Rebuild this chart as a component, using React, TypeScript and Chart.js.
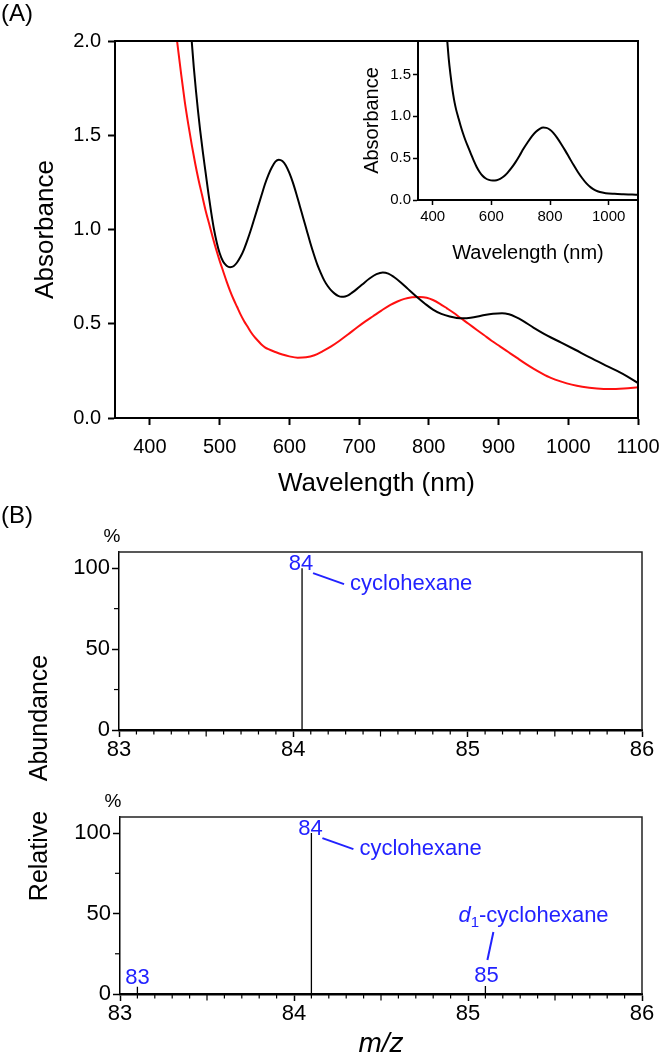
import React, { useEffect, useRef } from 'react';
import { Chart, registerables } from 'chart.js';

Chart.register(...registerables);

const FONT = "'Liberation Sans', Arial, Helvetica, sans-serif";
const BLUE = '#2222ff';
const RED = '#ff1010';

// ---------- Panel A: main UV-vis spectra ----------
const blackWl = [460, 463, 466, 469, 472, 476, 480, 484, 488, 492, 496, 500, 505, 510, 515, 520, 525, 530, 535, 540, 545, 550, 555, 560, 565, 570, 575, 580, 585, 590, 595, 600, 605, 610, 615, 620, 625, 630, 635, 640, 645, 650, 655, 660, 665, 670, 675, 680, 685, 690, 697, 705, 715, 725, 734, 742, 750, 759, 770, 783, 795, 806, 818, 830, 840, 850, 860, 870, 880, 892, 905, 915, 925, 935, 950, 970, 990, 1010, 1030, 1050, 1070, 1085, 1100];
const blackAbs = [2.0, 1.86, 1.74, 1.63, 1.53, 1.41, 1.3, 1.19, 1.09, 1.0, 0.93, 0.875, 0.83, 0.808, 0.8, 0.805, 0.825, 0.855, 0.895, 0.945, 1.0, 1.06, 1.12, 1.18, 1.24, 1.29, 1.33, 1.36, 1.37, 1.363, 1.34, 1.3, 1.25, 1.19, 1.125, 1.06, 0.995, 0.93, 0.87, 0.815, 0.77, 0.73, 0.7, 0.677, 0.66, 0.648, 0.643, 0.645, 0.652, 0.665, 0.685, 0.71, 0.74, 0.763, 0.772, 0.766, 0.748, 0.722, 0.685, 0.642, 0.605, 0.575, 0.552, 0.538, 0.531, 0.529, 0.532, 0.538, 0.546, 0.553, 0.556, 0.55, 0.535, 0.515, 0.48, 0.437, 0.4, 0.362, 0.323, 0.286, 0.25, 0.22, 0.185];

const redWl = [439, 445, 450, 455, 460, 465, 470, 475, 480, 485, 490, 495, 500, 505, 510, 515, 520, 525, 530, 535, 540, 545, 550, 555, 560, 565, 570, 580, 590, 600, 612, 624, 636, 648, 660, 672, 684, 697, 708, 720, 732, 745, 755, 765, 776, 787, 797, 806, 816, 826, 836, 845, 857, 869, 879, 890, 902, 914, 926, 938, 950, 962, 975, 990, 1005, 1020, 1041, 1060, 1080, 1100];
const redAbs = [2.0, 1.82, 1.68, 1.56, 1.45, 1.35, 1.26, 1.18, 1.1, 1.03, 0.96, 0.895, 0.835, 0.78, 0.725, 0.675, 0.63, 0.59, 0.55, 0.515, 0.485, 0.455, 0.43, 0.41, 0.39, 0.375, 0.365, 0.35, 0.337, 0.327, 0.32, 0.322, 0.333, 0.355, 0.38, 0.41, 0.443, 0.48, 0.51, 0.54, 0.57, 0.6, 0.618, 0.632, 0.64, 0.642, 0.638, 0.626, 0.606, 0.582, 0.557, 0.532, 0.5, 0.467, 0.44, 0.41, 0.38, 0.35, 0.32, 0.29, 0.262, 0.237, 0.213, 0.193, 0.177, 0.166, 0.157, 0.154, 0.157, 0.163];

// ---------- Panel A: inset ----------
const insetWl = [450, 455, 460, 465, 470, 475, 480, 487, 495, 503, 511, 520, 530, 540, 550, 560, 570, 580, 592, 605, 618, 630, 642, 655, 668, 682, 696, 710, 724, 738, 752, 765, 777, 788, 800, 812, 825, 838, 852, 866, 880, 895, 910, 925, 940, 955, 970, 990, 1020, 1050, 1080, 1100];
const insetAbs = [1.89, 1.68, 1.52, 1.38, 1.26, 1.16, 1.08, 0.99, 0.89, 0.8, 0.72, 0.64, 0.555, 0.47, 0.395, 0.335, 0.29, 0.26, 0.24, 0.233, 0.237, 0.252, 0.28, 0.325, 0.38, 0.45, 0.53, 0.615, 0.69, 0.76, 0.815, 0.85, 0.865, 0.862, 0.84, 0.8, 0.74, 0.67, 0.59, 0.505, 0.42, 0.335, 0.26, 0.195, 0.148, 0.115, 0.095, 0.082, 0.074, 0.069, 0.065, 0.062];

// ---------- Panel B: mass spectra ----------
const topMz = [84.05];
const topAb = [100];
const topLabels = ['84'];

const botMz = [83.1, 84.1, 85.1];
const botAb = [4.5, 100, 5];
const botLabels = ['83', '84', '85'];

const mzTicksMajor = 1;
const mzTicksMinor = 0.1;

function xy(xs: number[], ys: number[]) {
  return xs.map((x, i) => ({ x, y: ys[i] }));
}
function sticks(mz: number[], ab: number[]) {
  const out: any[] = [];
  mz.forEach((m, i) => {
    out.push({ x: m, y: 0 }, { x: m, y: ab[i] }, { x: m, y: null });
  });
  return out;
}

function line(ctx: CanvasRenderingContext2D, x1: number, y1: number, x2: number, y2: number) {
  ctx.beginPath();
  ctx.moveTo(x1, y1);
  ctx.lineTo(x2, y2);
  ctx.stroke();
}

function frame(chart: any, color: string, width: number) {
  const { ctx, chartArea } = chart;
  const { left, right, top, bottom } = chartArea;
  ctx.save();
  ctx.strokeStyle = color;
  ctx.lineWidth = width;
  ctx.beginPath();
  ctx.moveTo(left - width / 2, top);
  ctx.lineTo(right, top);
  ctx.lineTo(right, bottom);
  ctx.stroke();
  ctx.restore();
}

function rotatedText(ctx: CanvasRenderingContext2D, text: string, x: number, y: number, font: string) {
  ctx.save();
  ctx.translate(x, y);
  ctx.rotate(-Math.PI / 2);
  ctx.font = font;
  ctx.textAlign = 'center';
  ctx.textBaseline = 'alphabetic';
  ctx.fillStyle = '#000';
  ctx.fillText(text, 0, 0);
  ctx.restore();
}

const plain = (v: any) => String(v);
const oneDec = (v: any) => Number(v).toFixed(1);

function fixX(h: number) {
  return (s: any) => { s.height = h; s.paddingLeft = 0; s.paddingRight = 0; };
}
function fixY(w: number) {
  return (s: any) => { s.width = w; s.paddingTop = 0; s.paddingBottom = 0; };
}

const baseOpts = {
  responsive: false,
  animation: false as const,
  events: [] as any[],
  plugins: { legend: { display: false }, tooltip: { enabled: false } },
};

function mainConfig(): any {
  return {
    type: 'line',
    data: {
      datasets: [
        { data: xy(blackWl, blackAbs), borderColor: '#000', borderWidth: 2, pointRadius: 0, cubicInterpolationMode: 'monotone', fill: false },
        { data: xy(redWl, redAbs), borderColor: RED, borderWidth: 2, pointRadius: 0, cubicInterpolationMode: 'monotone', fill: false },
      ],
    },
    options: {
      ...baseOpts,
      layout: { padding: { top: 41, right: 23, left: 0, bottom: 0 } },
      scales: {
        x: {
          type: 'linear', min: 350, max: 1100,
          afterFit: fixX(82),
          ticks: { stepSize: 100, includeBounds: false, autoSkip: false, maxRotation: 0, color: '#000', padding: 10, font: { family: FONT, size: 20 }, callback: plain },
          grid: { drawOnChartArea: false, drawTicks: true, tickLength: 7, tickWidth: 2, tickColor: '#000' },
          border: { color: '#000', width: 2 },
        },
        y: {
          type: 'linear', min: 0, max: 2,
          afterFit: fixY(115),
          ticks: { stepSize: 0.5, includeBounds: false, color: '#000', padding: 7, font: { family: FONT, size: 20 }, callback: oneDec },
          grid: { drawOnChartArea: false, drawTicks: true, tickLength: 7, tickWidth: 2, tickColor: '#000' },
          border: { color: '#000', width: 2 },
        },
      },
    },
    plugins: [{
      id: 'mainDeco',
      afterDraw(chart: any) {
        const { ctx, chartArea } = chart;
        frame(chart, '#000', 2);
        ctx.save();
        ctx.fillStyle = '#000';
        ctx.font = `24px ${FONT}`;
        ctx.textAlign = 'left';
        ctx.textBaseline = 'alphabetic';
        ctx.fillText('(A)', 1, 21);
        ctx.font = `26px ${FONT}`;
        ctx.textAlign = 'center';
        ctx.fillText('Wavelength (nm)', (chartArea.left + chartArea.right) / 2, 491);
        ctx.restore();
        rotatedText(ctx, 'Absorbance', 53, (chartArea.top + chartArea.bottom) / 2, `26px ${FONT}`);
      },
    }],
  };
}

function insetConfig(): any {
  return {
    type: 'line',
    data: {
      datasets: [
        { data: xy(insetWl, insetAbs), borderColor: '#000', borderWidth: 2, pointRadius: 0, cubicInterpolationMode: 'monotone', fill: false },
      ],
    },
    options: {
      ...baseOpts,
      layout: { padding: { top: 41, right: 23, left: 0, bottom: 0 } },
      scales: {
        x: {
          type: 'linear', min: 350, max: 1100,
          afterFit: fixX(70),
          ticks: { stepSize: 200, includeBounds: false, autoSkip: false, maxRotation: 0, color: '#000', padding: 3, font: { family: FONT, size: 15 }, callback: plain },
          grid: { drawOnChartArea: false, drawTicks: true, tickLength: 5, tickWidth: 1.5, tickColor: '#000' },
          border: { color: '#000', width: 2 },
        },
        y: {
          type: 'linear', min: 0, max: 1.9,
          afterFit: fixY(88),
          ticks: { stepSize: 0.5, includeBounds: false, color: '#000', padding: 2, font: { family: FONT, size: 15 }, callback: oneDec },
          grid: { drawOnChartArea: false, drawTicks: true, tickLength: 5, tickWidth: 1.5, tickColor: '#000' },
          border: { color: '#000', width: 2 },
        },
      },
    },
    plugins: [{
      id: 'insetDeco',
      afterDraw(chart: any) {
        const { ctx, chartArea } = chart;
        ctx.save();
        ctx.fillStyle = '#000';
        ctx.font = `20px ${FONT}`;
        ctx.textAlign = 'center';
        ctx.textBaseline = 'alphabetic';
        ctx.fillText('Wavelength (nm)', (chartArea.left + chartArea.right) / 2, 259);
        ctx.restore();
        rotatedText(ctx, 'Absorbance', 48, (chartArea.top + chartArea.bottom) / 2, `20px ${FONT}`);
      },
    }],
  };
}

function minorTicks(chart: any) {
  const { ctx, chartArea, scales } = chart;
  const x = scales.x;
  const y = scales.y;
  ctx.save();
  ctx.strokeStyle = '#000';
  ctx.lineWidth = 1.2;
  const n = Math.round((x.max - x.min) / mzTicksMinor);
  const per = Math.round(mzTicksMajor / mzTicksMinor);
  for (let k = 1; k < n; k++) {
    if (k % per === 0) continue;
    const px = x.getPixelForValue(x.min + k * mzTicksMinor);
    const len = k % (per / 2) === 0 ? 5.5 : 3.5;
    line(ctx, px, chartArea.bottom + 1, px, chartArea.bottom + 1 + len);
  }
  [25, 75].forEach((v) => {
    const py = y.getPixelForValue(v);
    line(ctx, chartArea.left - 5, py, chartArea.left, py);
  });
  ctx.restore();
}

function msScales(yWidth: number, xHeight: number): any {
  return {
    x: {
      type: 'linear', min: 83, max: 86,
      afterFit: fixX(xHeight),
      ticks: { stepSize: mzTicksMajor, includeBounds: false, autoSkip: false, maxRotation: 0, color: '#000', padding: 0, font: { family: FONT, size: 22 }, callback: plain },
      grid: { drawOnChartArea: false, drawTicks: true, tickLength: 7, tickWidth: 1.5, tickColor: '#000' },
      border: { color: '#000', width: 2.5 },
    },
    y: {
      type: 'linear', min: 0, max: 110,
      afterFit: fixY(yWidth),
      ticks: { stepSize: 50, includeBounds: false, color: '#000', padding: 2, font: { family: FONT, size: 22 }, callback: plain },
      grid: { drawOnChartArea: false, drawTicks: true, tickLength: 7, tickWidth: 1.5, tickColor: '#000' },
      border: { color: '#000', width: 1.5 },
    },
  };
}

function cycloLabel(ctx: CanvasRenderingContext2D, px: number, py: number, num: string) {
  ctx.fillStyle = BLUE;
  ctx.strokeStyle = BLUE;
  ctx.font = `22px ${FONT}`;
  ctx.textBaseline = 'alphabetic';
  ctx.textAlign = 'center';
  ctx.fillText(num, px - 1, py + 2);
  ctx.lineWidth = 2;
  line(ctx, px + 11, py + 5, px + 42, py + 16);
  ctx.textAlign = 'left';
  ctx.fillText('cyclohexane', px + 48, py + 22);
}

function topMsConfig(): any {
  return {
    type: 'line',
    data: {
      datasets: [
        { data: sticks(topMz, topAb), borderColor: '#000', borderWidth: 1.3, pointRadius: 0, spanGaps: false, fill: false, tension: 0 },
      ],
    },
    options: {
      ...baseOpts,
      layout: { padding: { top: 52, right: 19, left: 0, bottom: 0 } },
      scales: msScales(119, 40),
    },
    plugins: [{
      id: 'topDeco',
      afterDraw(chart: any) {
        const { ctx, chartArea, scales } = chart;
        frame(chart, '#222', 1.5);
        minorTicks(chart);
        ctx.save();
        ctx.fillStyle = '#000';
        ctx.font = `24px ${FONT}`;
        ctx.textAlign = 'left';
        ctx.textBaseline = 'alphabetic';
        ctx.fillText('(B)', 1, 23);
        ctx.font = `19px ${FONT}`;
        ctx.textAlign = 'center';
        ctx.fillText('%', chartArea.left - 7, chartArea.top - 10);
        const px = scales.x.getPixelForValue(topMz[0]);
        const py = scales.y.getPixelForValue(topAb[0]);
        cycloLabel(ctx, px, py, topLabels[0]);
        ctx.restore();
      },
    }],
  };
}

function botMsConfig(): any {
  return {
    type: 'line',
    data: {
      datasets: [
        { data: sticks(botMz, botAb), borderColor: '#000', borderWidth: 1.3, pointRadius: 0, spanGaps: false, fill: false, tension: 0 },
      ],
    },
    options: {
      ...baseOpts,
      layout: { padding: { top: 217, right: 19, left: 0, bottom: 0 } },
      scales: msScales(120, 64),
    },
    plugins: [{
      id: 'botDeco',
      afterDraw(chart: any) {
        const { ctx, chartArea, scales } = chart;
        frame(chart, '#222', 1.5);
        minorTicks(chart);
        ctx.save();
        ctx.fillStyle = '#000';
        ctx.font = `19px ${FONT}`;
        ctx.textAlign = 'center';
        ctx.textBaseline = 'alphabetic';
        ctx.fillText('%', chartArea.left - 7, chartArea.top - 10);
        ctx.font = `italic 28px ${FONT}`;
        ctx.fillText('m/z', (chartArea.left + chartArea.right) / 2, 452);
        ctx.restore();
        rotatedText(ctx, 'Relative', 47, 256, `25px ${FONT}`);
        rotatedText(ctx, 'Abundance', 47, 118, `25px ${FONT}`);

        ctx.save();
        const P = botMz.map((m, i) => [scales.x.getPixelForValue(m), scales.y.getPixelForValue(botAb[i])]);
        ctx.fillStyle = BLUE;
        ctx.strokeStyle = BLUE;
        ctx.font = `22px ${FONT}`;
        ctx.textAlign = 'center';
        ctx.textBaseline = 'alphabetic';
        ctx.fillText(botLabels[0], P[0][0], P[0][1] - 3);
        cycloLabel(ctx, P[1][0], P[1][1], botLabels[1]);
        const [qx, qy] = P[2];
        ctx.fillStyle = BLUE;
        ctx.strokeStyle = BLUE;
        ctx.font = `22px ${FONT}`;
        ctx.textAlign = 'center';
        ctx.fillText(botLabels[2], qx + 1, qy - 4);
        ctx.lineWidth = 2;
        line(ctx, qx + 8, qy - 54, qx + 2, qy - 26);
        ctx.textAlign = 'left';
        let tx = qx - 27;
        const by = qy - 64;
        ctx.font = `italic 22px ${FONT}`;
        ctx.fillText('d', tx, by);
        tx += ctx.measureText('d').width;
        ctx.font = `15px ${FONT}`;
        ctx.fillText('1', tx, by + 5);
        tx += ctx.measureText('1').width;
        ctx.font = `22px ${FONT}`;
        ctx.fillText('-cyclohexane', tx, by);
        ctx.restore();
      },
    }],
  };
}

function ChartCanvas(props: { left: number; top: number; width: number; height: number; make: () => any }) {
  const ref = useRef<HTMLCanvasElement | null>(null);
  useEffect(() => {
    if (!ref.current) return;
    const chart = new Chart(ref.current, props.make());
    return () => chart.destroy();
  }, []);
  return (
    <canvas
      ref={ref}
      width={props.width}
      height={props.height}
      style={{ position: 'absolute', left: props.left, top: props.top, width: props.width, height: props.height, display: 'block' }}
    />
  );
}

export default function App() {
  return (
    <div style={{ position: 'absolute', left: 0, top: 0, width: 661, height: 1058, background: '#fff', overflow: 'hidden' }}>
      <ChartCanvas left={0} top={0} width={661} height={500} make={mainConfig} />
      <ChartCanvas left={330} top={0} width={331} height={270} make={insetConfig} />
      <ChartCanvas left={0} top={600} width={661} height={458} make={botMsConfig} />
      <ChartCanvas left={0} top={500} width={661} height={270} make={topMsConfig} />
    </div>
  );
}
